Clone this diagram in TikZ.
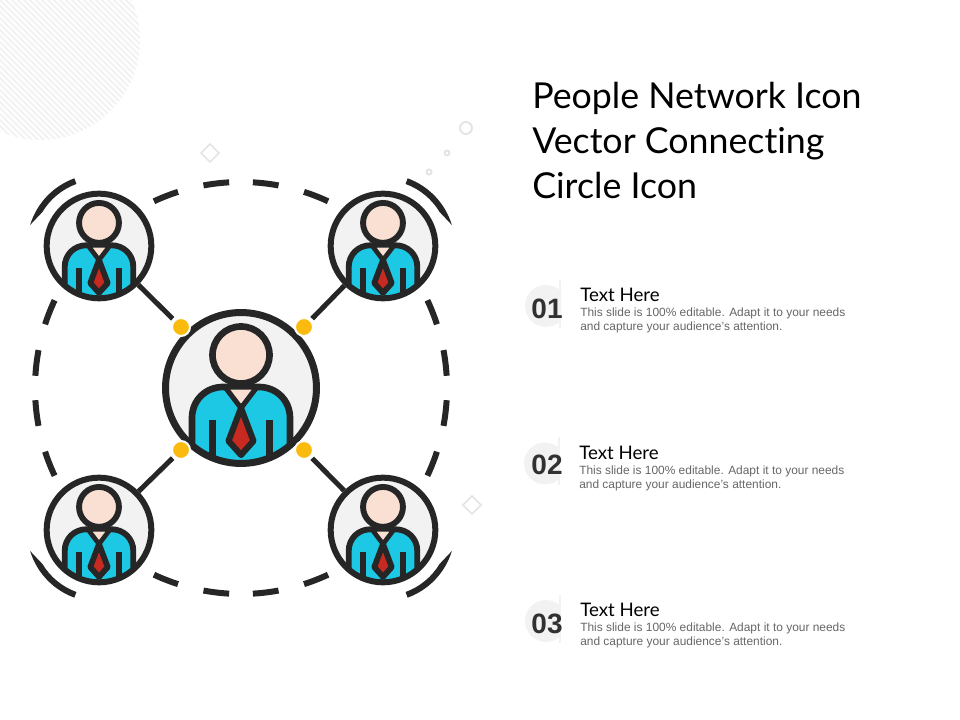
\documentclass[tikz,border=0pt]{standalone}
\usepackage{fontspec}
\setmainfont{Liberation Sans}
\newfontfamily\titlefont[Ligatures=NoCommon]{Lato}
\definecolor{inkdark}{HTML}{262626}
\definecolor{skin}{HTML}{F9E0D3}
\definecolor{shirt}{HTML}{1CC8E3}
\definecolor{tiered}{HTML}{C62A20}
\definecolor{gold}{HTML}{FABB0E}
\definecolor{paleback}{HTML}{F2F2F2}
\definecolor{decor}{HTML}{E4E4E4}

\tikzstyle{hubring} = [circle, draw=inkdark, line width=5.25pt, inner sep=0pt, minimum size=113.2pt]
\tikzstyle{ring} = [circle, draw=inkdark, line width=4.5pt, inner sep=0pt, minimum size=78.5pt]
\tikzstyle{joindot} = [circle, fill=gold, draw=white, line width=1.5pt, inner sep=0pt, minimum size=13.5pt, outer sep=2pt]
\tikzstyle{link} = [draw=inkdark, line width=3.75pt]
\tikzstyle{numlabel} = [font=\fontsize{21}{21}\selectfont\bfseries, text=inkdark!95, inner sep=0pt]
\tikzstyle{headlabel} = [font=\titlefont\fontsize{14}{14}\selectfont, text=black, inner sep=0pt, anchor=base west]
\tikzstyle{bodylabel} = [font=\fontsize{8.95}{10.5}\selectfont, text=black!60, inner sep=0pt, anchor=north west, align=left]
\tikzstyle{titlelabel} = [font=\titlefont\fontsize{26.8}{33.75}\selectfont, text=black, inner sep=0pt, anchor=north west, align=left]

% one person inside a circle: x, y, scale
\newcommand{\personicon}[3]{
\begin{scope}[shift={(#1,#2)},scale=#3]
\fill[paleback] (0,0) circle[radius=75];
\begin{scope}
\clip (0,0) circle[radius=75];
\draw[fill=shirt,draw=inkdark,line width=#3*2pt+3pt] (-49,-80) -- (-49,-30) .. controls (-49,-12) and (-35,1) .. (-18,1) -- (18,1) .. controls (35,1) and (49,-12) .. (49,-30) -- (49,-80) -- cycle;
\draw[fill=skin,draw=inkdark,line width=#3*1pt+2.8pt,line join=round] (-16,1) -- (0,-20) -- (16,1) -- cycle;
\draw[draw=inkdark,line width=#3*2pt+3pt] (-28.5,-32) -- (-28.5,-80) (28.5,-32) -- (28.5,-80);
\draw[fill=tiered,draw=inkdark,line width=#3*1pt+3.6pt,line join=round] (0,-20) -- (-12.5,-53) -- (0,-67) -- (12.5,-53) -- cycle;
\end{scope}
\draw[fill=skin,draw=inkdark,line width=#3*2pt+3pt] (0,33) circle[radius=28.5];
\end{scope}
}

\begin{document}
\begin{tikzpicture}[x=0.75pt,y=0.75pt]
\useasboundingbox (0,0) rectangle (960,720);

% stripes in the corner
\begin{scope}
\clip (0,0) rectangle (960,720);
\clip (40,680) circle[radius=100];
\foreach \s in {-150,-144,...,150}
	\draw[paleback,line width=1.5pt] (\s-60,780) -- (\s+160,560);
\end{scope}

% small decoration
\draw[decor,line width=1.1pt] (210,576) -- (219,567) -- (210,558) -- (201,567) -- cycle;
\draw[decor,line width=1.1pt] (472,224) -- (481,215) -- (472,206) -- (463,215) -- cycle;
\draw[decor,line width=1.5pt] (466,592) circle[radius=6];
\draw[decor,line width=1.5pt] (447,567) circle[radius=2.5];
\draw[decor,line width=1.5pt] (429,548) circle[radius=2.5];

% dashed circle round the hub
\foreach \a in {7,21.6,68.6,83.1,96.9,111.4,158.4,173,187,201.6,248.6,263.1,276.9,291.4,338.4,353}
	\draw[inkdark,line width=4.5pt] ([shift={(\a-3.6:206)}]241,332) arc[start angle=\a-3.6,end angle=\a+3.6,radius=206];

% people
\personicon{241}{332}{1}
\personicon{99}{474}{0.7}
\personicon{383}{474}{0.7}
\personicon{99}{190}{0.7}
\personicon{383}{190}{0.7}

\node[hubring] (hub) at (241,332) {};
\node[ring] (p1) at (99,474) {};
\node[ring] (p2) at (383,474) {};
\node[ring] (p3) at (99,190) {};
\node[ring] (p4) at (383,190) {};

% arcs outside the four small circles, blunt end then pointed end
\foreach \cx/\cy/\b/\p/\q in {99/474/110/163/149, 383/474/70/17/31, 99/190/250/197/211, 383/190/-70/-17/-31}
	\fill[inkdark] ([shift={(\b:72)}]\cx,\cy) arc[start angle=\b,end angle=\p,radius=72] -- ([shift={(\q:66)}]\cx,\cy) arc[start angle=\q,end angle=\b,radius=66] -- cycle;

\node[joindot] (d1) at (181,393) {};
\node[joindot] (d2) at (304,393) {};
\node[joindot] (d3) at (181,270) {};
\node[joindot] (d4) at (304,270) {};

\draw[link] (p1) -- (d1);
\draw[link] (p2) -- (d2);
\draw[link] (p3) -- (d3);
\draw[link] (p4) -- (d4);

% title
\node[titlelabel] (title) at (532,638.5) {People Network Icon\\Vector Connecting\\Circle Icon};

% the three rows
\foreach \n/\tx/\ty/\ny/\nx in {1/580/418/411/547, 2/579/260.5/255/547, 3/580/103/96/547}{
	\fill[paleback] (\tx-34,\ty-4) ++(15.1,14.6) arc[start angle=44,end angle=316,radius=21] -- cycle;
	\draw[paleback,line width=0.8pt] (\tx-20,\ty+22) -- (\tx-20,\ty-26);
	\node[numlabel] (num\n) at (\nx,\ny) {0\n};
	\node[headlabel] (head\n) at (\tx,\ty) {Text Here};
	\node[bodylabel] (body\n) at (\tx,\ty-6) {This slide is 100\% editable. Adapt it to your needs\\and capture your audience's attention.};
}
\end{tikzpicture}
\end{document}
